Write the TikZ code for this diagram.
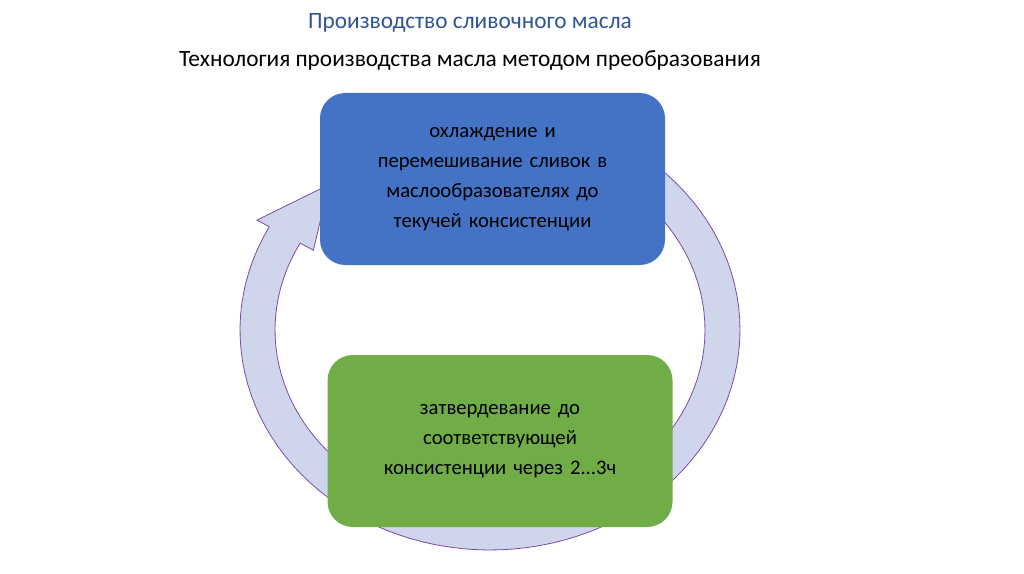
\documentclass[tikz,border=0pt]{standalone}
\usepackage{fontspec}
\setmainfont{Carlito}
\definecolor{bbox}{HTML}{4472C4}
\definecolor{gbox}{HTML}{70AD47}
\definecolor{ringf}{HTML}{CFD5EA}
\definecolor{ringd}{HTML}{7B4BA8}
\definecolor{ttl}{HTML}{2F5597}
\begin{document}
\begin{tikzpicture}[x=0.75pt,y=-0.75pt,
  boxst/.style={rounded corners=19pt,minimum width=258.75pt,minimum height=129pt,align=center,font=\fontsize{15.5}{22.5}\selectfont,text width=230pt,inner sep=0pt}]
\useasboundingbox (0,0) rectangle (1024,574);
\node[font=\fontsize{17.5}{20}\selectfont,text=ttl] (t1) at (470,23) {Производство сливочного масла};
\node[font=\fontsize{17.5}{20}\selectfont] (t2) at (470,60) {Технология производства масла методом преобразования};
\draw[ringd,fill=ringf,line width=0.6pt]
  plot[domain=-60:208,samples=90] ({490+250*cos(\x)},{330+220*sin(\x)})
  -- ({490+264*cos(208)},{330+234*sin(208)})
  -- ({490+232*cos(226)},{330+202*sin(226)})
  -- ({490+200*cos(208)},{330+170*sin(208)})
  -- plot[domain=208:-60,samples=90] ({490+215*cos(\x)},{330+185*sin(\x)}) -- cycle;
\node[boxst,fill=bbox] (a) at (492.5,179) {охлаждение и\\перемешивание сливок в\\маслообразователях до\\текучей консистенции\\[4pt]};
\node[boxst,fill=gbox] (b) at (500,441) {затвердевание до\\соответствующей\\консистенции через 2...3ч\\[4pt]};
\end{tikzpicture}
\end{document}
